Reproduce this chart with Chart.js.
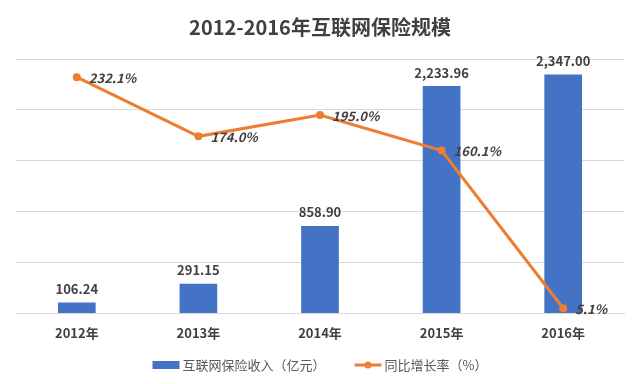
<!DOCTYPE html>
<html>
<head>
<meta charset="utf-8">
<script src="https://cdn.jsdelivr.net/npm/chart.js@4/dist/chart.umd.min.js"></script>
<style>
  html, body { margin: 0; padding: 0; background: #fff; }
  #wrap { width: 640px; height: 384px; position: relative; }
</style>
</head>
<body>
<div id="wrap"><canvas id="c"></canvas></div>
<script>
// 데이터
const years = ['2012年', '2013年', '2014年', '2015年', '2016年'];
const revenue = [106.24, 291.15, 858.90, 2233.96, 2347.00];
const growth = [232.1, 174.0, 195.0, 160.1, 5.1];
const revenueLabel = '互联网保险收入（亿元）';
const growthLabel = '同比增长率（%）';

const FONT = '"Noto Sans CJK SC", "Noto Sans", sans-serif';
const BLUE = '#4472C4';
const ORANGE = '#ED7D31';
const TEXT = '#404040';

// 값 라벨 그리기
const valueLabels = {
    id: 'valueLabels',
    afterDatasetsDraw(chart) {
        const ctx = chart.ctx;
        ctx.save();
        ctx.fillStyle = TEXT;
        // bars
        ctx.font = 'bold 13px ' + FONT;
        ctx.textAlign = 'center';
        ctx.textBaseline = 'bottom';
        chart.getDatasetMeta(0).data.forEach((el, i) => {
            const v = revenue[i].toLocaleString('en-US', { minimumFractionDigits: 2, maximumFractionDigits: 2 });
            ctx.fillText(v, el.x, el.y - 7);
        });
        // line
        ctx.font = 'italic bold 13px ' + FONT;
        ctx.textAlign = 'left';
        ctx.textBaseline = 'middle';
        chart.getDatasetMeta(1).data.forEach((el, i) => {
            ctx.fillText(growth[i].toFixed(1) + '%', el.x + 12, el.y + 1);
        });
        ctx.restore();
    }
};

// 하단 범례 (직접 그림)
const bottomLegend = {
    id: 'bottomLegend',
    afterDraw(chart) {
        const ctx = chart.ctx;
        const y = 365;
        ctx.save();
        ctx.font = '13px ' + FONT;
        ctx.fillStyle = '#595959';
        ctx.textBaseline = 'middle';
        ctx.textAlign = 'left';
        const w1 = ctx.measureText(revenueLabel).width;
        const w2 = ctx.measureText(growthLabel).width;
        const total = 27 + 3 + w1 + 29 + 27 + 3 + w2;
        let x = (chart.width - total) / 2;
        ctx.fillStyle = BLUE;
        ctx.fillRect(x, y - 4, 27, 8);
        x += 30;
        ctx.fillStyle = '#595959';
        ctx.fillText(revenueLabel, x, y);
        x += w1 + 29;
        ctx.strokeStyle = ORANGE;
        ctx.lineWidth = 3;
        ctx.beginPath(); ctx.moveTo(x, y); ctx.lineTo(x + 27, y); ctx.stroke();
        ctx.fillStyle = ORANGE;
        ctx.beginPath(); ctx.arc(x + 13.5, y, 3.5, 0, Math.PI * 2); ctx.fill();
        x += 30;
        ctx.fillStyle = '#595959';
        ctx.fillText(growthLabel, x, y);
        ctx.restore();
    }
};

new Chart(document.getElementById('c'), {
    data: {
        labels: years,
        datasets: [
            {
                type: 'bar',
                label: revenueLabel,
                data: revenue,
                backgroundColor: BLUE,
                yAxisID: 'y',
                categoryPercentage: 1,
                barPercentage: 0.31,
                order: 2
            },
            {
                type: 'line',
                label: growthLabel,
                data: growth,
                borderColor: ORANGE,
                backgroundColor: ORANGE,
                borderWidth: 3,
                pointRadius: 4,
                pointBackgroundColor: ORANGE,
                pointBorderWidth: 0,
                yAxisID: 'y2',
                order: 1
            }
        ]
    },
    options: {
        responsive: true,
        maintainAspectRatio: false,
        animation: false,
        layout: { padding: { top: 12, left: 16, right: 16, bottom: 39 } },
        plugins: {
            title: {
                display: true,
                text: '2012-2016年互联网保险规模',
                color: TEXT,
                font: { family: FONT, size: 20, weight: 'bold' },
                padding: { top: 3, bottom: 20 }
            },
            legend: { display: false },
            tooltip: { enabled: false }
        },
        scales: {
            x: {
                grid: { display: false },
                border: { display: true, color: '#d9d9d9' },
                ticks: {
                    color: TEXT,
                    padding: 4,
                    font: { family: FONT, size: 13, weight: 'bold' }
                }
            },
            y: {
                min: 0, max: 2500,
                ticks: { display: false, stepSize: 500 },
                grid: { color: '#d9d9d9', drawTicks: false },
                border: { display: false }
            },
            y2: {
                display: false,
                min: 0, max: 250
            }
        }
    },
    plugins: [valueLabels, bottomLegend]
});
</script>
</body>
</html>
